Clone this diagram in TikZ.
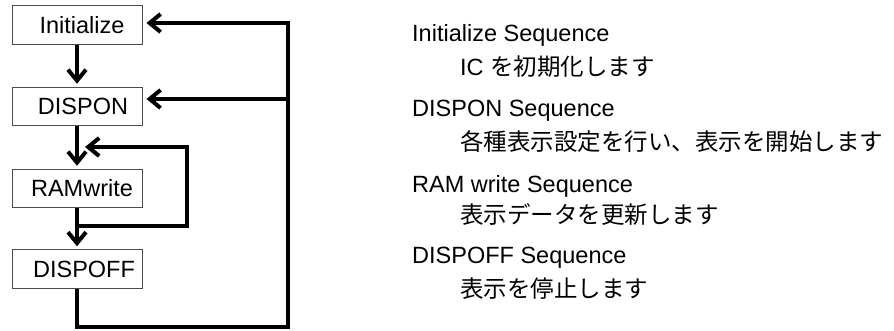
\documentclass[tikz,border=0pt]{standalone}
\usepackage{fontspec}
\setmainfont{Liberation Sans}
\newfontfamily\jp{Noto Sans CJK JP}
\usetikzlibrary{arrows.meta,calc}
\tikzset{
  stepbox/.style={draw=black!70, line width=0.9pt, minimum width=130pt, minimum height=38.5pt, inner sep=0pt},
  flow/.style={line width=4pt, line join=miter, -{Straight Barb[length=11pt,width=18pt,line join=miter]}},
  desc/.style={anchor=base west, inner sep=0pt},
}
\begin{document}
\begin{tikzpicture}[x=1pt,y=-1pt,font=\fontsize{23.5}{28}\selectfont]
\useasboundingbox (0,0) rectangle (894,331);
% boxes
\node[stepbox, label={[xshift=5pt]center:Initialize}] (init) at (77,25) {};
\node[stepbox, label={[xshift=6pt]center:DISPON}] (dispon) at (77,106.5) {};
\node[stepbox, label={[xshift=5pt]center:RAMwrite}] (ram) at (77,188.5) {};
\node[stepbox, label={[xshift=7pt]center:DISPOFF}] (dispoff) at (77,269) {};
% coordinates
\coordinate (j1) at (77,226.5);
\coordinate (lp2) at (187,147);
\coordinate (tip) at (85,147);
\coordinate (b0) at (77,327);
\coordinate (b1) at (288,327);
\coordinate (b2) at (288,99);
\coordinate (b3) at (288,23);
% main arrows
\draw[flow, shorten >=3pt] (init.south) -- (dispon.north);
\draw[flow, shorten >=3pt] (dispon.south) -- (ram.north);
\draw[flow, shorten >=3pt] (ram.south) -- (dispoff.north);
% inner loop
\draw[flow] (j1) -| (lp2) -- (tip);
% outer loop
\draw[flow, shorten >=4pt] (dispoff.south) -- (b0) -- (b1) -- (b3) -- (b3 -| init.east);
\draw[flow, shorten >=4pt] (b2) -- (b2 -| dispon.east);
% descriptions
\node[desc] (t1) at (412,42) {Initialize Sequence};
\node[desc] (t2) at (460,76) {IC {\jp を初期化します}};
\node[desc] (t3) at (412,117) {DISPON Sequence};
\node[desc] (t4) at (460,151) {\jp 各種表示設定を行い、表示を開始します};
\node[desc] (t5) at (412,192.5) {RAM write Sequence};
\node[desc] (t6) at (460,223) {\jp 表示データを更新します};
\node[desc] (t7) at (412,263) {DISPOFF Sequence};
\node[desc] (t8) at (460,297) {\jp 表示を停止します};
\end{tikzpicture}
\end{document}
